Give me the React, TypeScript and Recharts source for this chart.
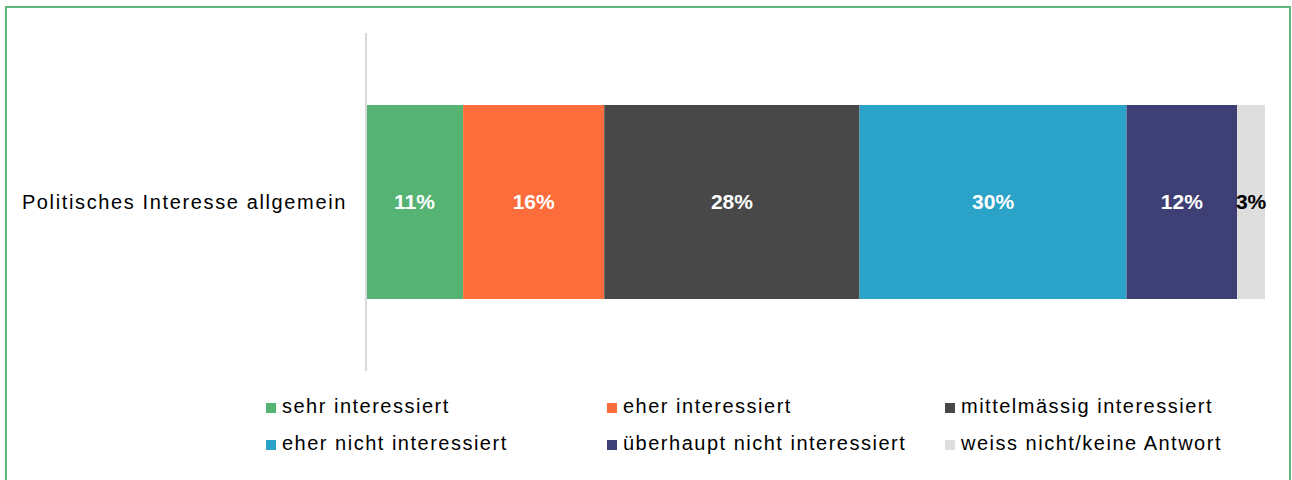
import React from 'react';
import { BarChart, Bar, XAxis, YAxis, LabelList } from 'recharts';

const categories = ['Politisches Interesse allgemein'];
const seriesNames = [
  'sehr interessiert',
  'eher interessiert',
  'mittelmässig interessiert',
  'eher nicht interessiert',
  'überhaupt nicht interessiert',
  'weiss nicht/keine Antwort',
];
const seriesKeys = ['s1', 's2', 's3', 's4', 's5', 's6'];
const seriesValues = [10.8, 15.7, 28.4, 29.7, 12.3, 3.1];
const seriesColors = ['#55b374', '#fd6d3b', '#484848', '#2ba2c7', '#3e3f74', '#dedede'];
const labelColors = ['#ffffff', '#ffffff', '#ffffff', '#ffffff', '#ffffff', '#000000'];

const FONT = '"Liberation Sans", Arial, Helvetica, sans-serif';

const data = categories.map((name) => {
  const row: any = { name };
  seriesKeys.forEach((k, i) => {
    row[k] = seriesValues[i];
  });
  return row;
});

const CategoryTick = (props: any) => {
  const { x, y, payload } = props;
  return (
    <text
      x={x - 11}
      y={y}
      textAnchor="end"
      dominantBaseline="central"
      fill="#000"
      fontSize={20}
      letterSpacing={1.63}
      fontFamily={FONT}
    >
      {payload.value}
    </text>
  );
};

const legendCols = [266, 607, 945];
const legendRows = [406, 443];

export default function App() {
  return (
    <div style={{ position: 'absolute', left: 0, top: 0, width: 1292, height: 480, overflow: 'hidden', background: '#fff', fontFamily: FONT }}>
      <div
        style={{
          position: 'absolute',
          left: 5,
          top: 6,
          width: 1286,
          height: 500,
          border: '2px solid #5cb87a',
          boxSizing: 'border-box',
        }}
      />
      <div style={{ position: 'absolute', left: 0, top: 0 }}>
        <BarChart
          width={1292}
          height={480}
          data={data}
          layout="vertical"
          margin={{ top: 33, right: 27, bottom: 109, left: 8 }}
        >
          <XAxis type="number" domain={[0, 100]} hide />
          <YAxis
            type="category"
            dataKey="name"
            width={358}
            axisLine={{ stroke: '#d9d9d9', strokeWidth: 2 }}
            tickLine={false}
            tick={<CategoryTick />}
          />
          {seriesKeys.map((k, i) => (
            <Bar key={k} dataKey={k} stackId="a" fill={seriesColors[i]} barSize={194} isAnimationActive={false}>
              <LabelList
                dataKey={k}
                position="center"
                fill={labelColors[i]}
                fontSize={21}
                fontWeight="bold"
                fontFamily={FONT}
                formatter={(v: any) => `${Math.round(Number(v))}%`}
              />
            </Bar>
          ))}
        </BarChart>
      </div>
      {seriesNames.map((name, i) => {
        const col = i % 3;
        const row = Math.floor(i / 3);
        return (
          <div
            key={name}
            style={{
              position: 'absolute',
              left: legendCols[col],
              top: legendRows[row] - 12,
              height: 24,
              display: 'flex',
              alignItems: 'center',
              whiteSpace: 'nowrap',
              fontSize: 20,
              letterSpacing: 1.5,
              color: '#000',
            }}
          >
            <span style={{ display: 'inline-block', width: 10, height: 10, background: seriesColors[i], marginRight: 6, marginTop: 4 }} />
            {name}
          </div>
        );
      })}
    </div>
  );
}
